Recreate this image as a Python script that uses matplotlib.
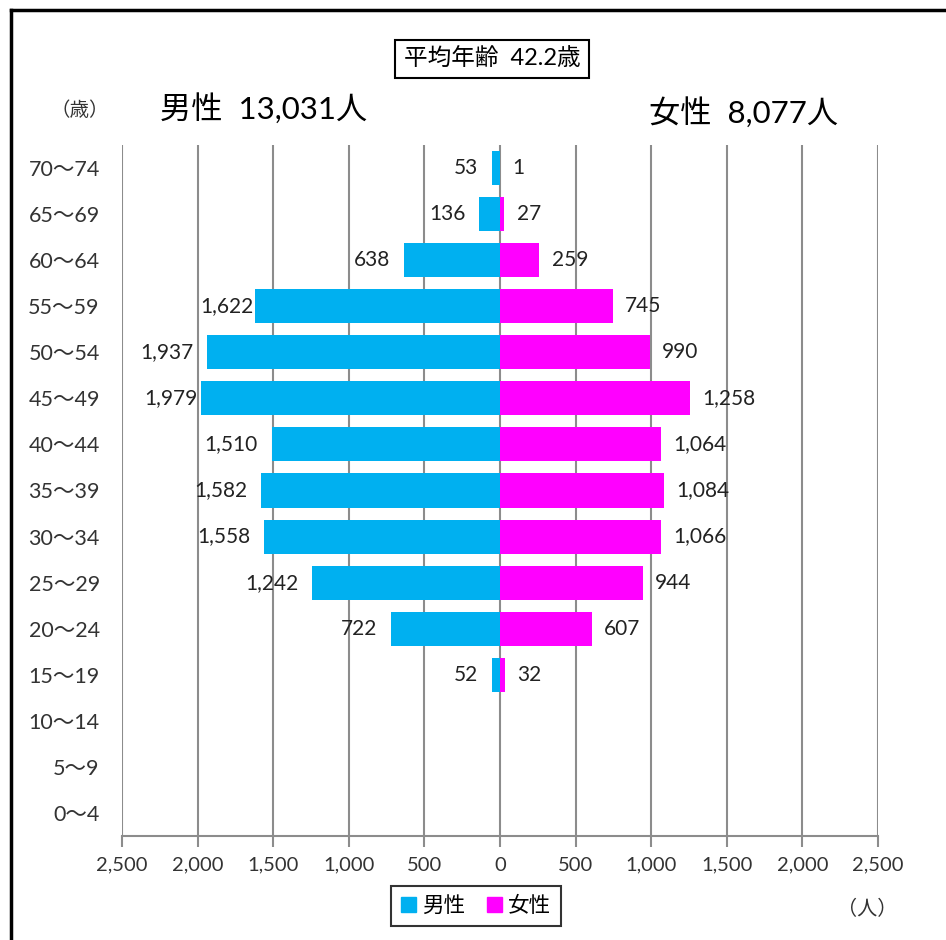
import matplotlib
matplotlib.use("Agg")
import matplotlib.pyplot as plt
from matplotlib.patches import Patch
from matplotlib.lines import Line2D

# 年齢階級（下から上へ）
age_groups = ["0～4", "5～9", "10～14", "15～19", "20～24", "25～29", "30～34",
              "35～39", "40～44", "45～49", "50～54", "55～59", "60～64", "65～69", "70～74"]
male = [0, 0, 0, 52, 722, 1242, 1558, 1582, 1510, 1979, 1937, 1622, 638, 136, 53]
female = [0, 0, 0, 32, 607, 944, 1066, 1084, 1064, 1258, 990, 745, 259, 27, 1]
x_ticks = [-2500, -2000, -1500, -1000, -500, 0, 500, 1000, 1500, 2000, 2500]

male_total = "13,031"
female_total = "8,077"
mean_age = "42.2"

MALE_COLOR = "#00B0F0"
FEMALE_COLOR = "#FF00FF"
GRID_COLOR = "#8C8C8C"
FONT = ["Lato", "Noto Sans CJK JP", "DejaVu Sans"]

plt.rcParams["font.family"] = FONT
plt.rcParams["axes.unicode_minus"] = False

W, H = 946, 940
fig = plt.figure(figsize=(W / 100, H / 100), dpi=100)
ax = fig.add_axes([122 / W, (H - 836) / H, (878 - 122) / W, (836 - 145) / H])

y = list(range(len(age_groups)))
ax.barh(y, [-v for v in male], height=0.74, color=MALE_COLOR, zorder=3)
ax.barh(y, female, height=0.74, color=FEMALE_COLOR, zorder=3)

# 値ラベル（0人の階級は表示しない）
male_shift = {"1,622": -1, "1,979": -2}
for i, (m, f) in enumerate(zip(male, female)):
    if m > 0:
        txt = f"{m:,}"
        ax.annotate(txt, (-m, i), xytext=(male_shift.get(txt, -10), 0),
                    textcoords="offset points", ha="right", va="center",
                    fontsize=15, color="#222222", zorder=4)
    if f > 0:
        ax.annotate(f"{f:,}", (f, i), xytext=(9, 0), textcoords="offset points",
                    ha="left", va="center", fontsize=15, color="#222222", zorder=4)

ax.set_xlim(-2500, 2500)
ax.set_ylim(-0.5, len(age_groups) - 0.5)
ax.set_xticks(x_ticks)
ax.set_xticklabels([f"{abs(v):,}" for v in x_ticks], fontsize=14.5, color="#333333")
ax.set_yticks(y)
ax.set_yticklabels(age_groups, fontsize=15.5, color="#333333")
ax.tick_params(axis="y", length=0, pad=16)
ax.tick_params(axis="x", length=8, width=1.5, color=GRID_COLOR, pad=7, direction="out")

for side in ["top", "left", "right"]:
    ax.spines[side].set_visible(False)
ax.spines["bottom"].set_color(GRID_COLOR)
ax.spines["bottom"].set_linewidth(1.5)
ax.grid(axis="x", color=GRID_COLOR, linewidth=1.5, zorder=1)
ax.set_axisbelow(True)

# 見出し
fig.text(492 / W, 1 - 59 / H, f"平均年齢  {mean_age}歳", ha="center", va="center",
         fontsize=17, bbox=dict(boxstyle="square,pad=0.35", fc="white", ec="black", lw=1.5))
fig.text(80 / W, 1 - 110 / H, "（歳）", ha="center", va="center", fontsize=14,
         color="#333333")
fig.text(160 / W, 1 - 108 / H, f"男性  {male_total}人", ha="left", va="center",
         fontsize=22.5)
fig.text(838 / W, 1 - 112 / H, f"女性  {female_total}人", ha="right", va="center",
         fontsize=22.5)
fig.text(867 / W, 1 - 908 / H, "（人）", ha="center", va="center", fontsize=14.5,
         color="#333333")

handles = [Patch(color=MALE_COLOR, label="男性"), Patch(color=FEMALE_COLOR, label="女性")]
leg = fig.legend(handles=handles, loc="center", bbox_to_anchor=(476 / W, 1 - 906 / H),
                 ncol=2, fontsize=15.5, frameon=True, fancybox=False, edgecolor="black",
                 handlelength=0.7, handleheight=0.7, handletextpad=0.3, columnspacing=1.0,
                 borderpad=0.45)
leg.get_frame().set_linewidth(1.5)

# 外枠（上辺と左辺）
fig.add_artist(Line2D([11 / W, 11 / W], [0, 1 - 10 / H], color="black", lw=2.5,
                      transform=fig.transFigure))
fig.add_artist(Line2D([11 / W, 1], [1 - 10 / H, 1 - 10 / H], color="black", lw=2.5,
                      transform=fig.transFigure))

fig.savefig("out.png", dpi=100, facecolor="white")
